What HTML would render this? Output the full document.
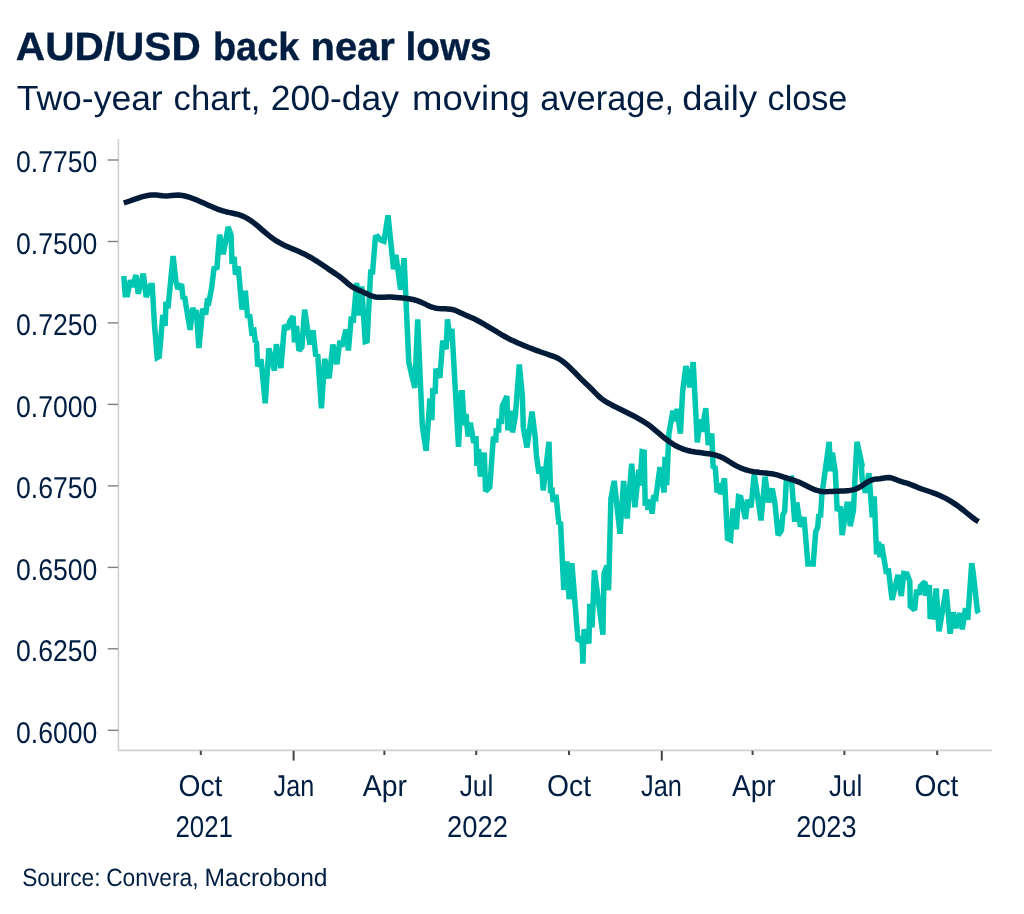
<!DOCTYPE html>
<html lang="en">
<head>
<meta charset="utf-8">
<title>AUD/USD back near lows</title>
<style>
  html, body { margin: 0; padding: 0; background: #ffffff; }
  body { width: 1024px; height: 914px; overflow: hidden; }
  svg { display: block; }
  svg text { font-family: "Liberation Sans", "DejaVu Sans", sans-serif; fill: #001e41; text-rendering: geometricPrecision; }
  .bold { font-weight: bold; stroke: #001e41; stroke-width: 0.4px; }
</style>
</head>
<body>
<svg width="1024" height="914" viewBox="0 0 1024 914" role="img" aria-label="AUD/USD back near lows">
  <rect x="0" y="0" width="1024" height="914" fill="#ffffff"/>
  <!-- headings -->
  <g id="title">
    <text class="bold" font-size="39.5" transform="translate(15.87 60.00) scale(1.0272 1)">AUD/USD </text>
    <text class="bold" font-size="39.5" transform="translate(212.93 60.00) scale(0.9588 1)">back </text>
    <text class="bold" font-size="39.5" transform="translate(310.51 60.00) scale(1.0099 1)">near </text>
    <text class="bold" font-size="39.5" transform="translate(405.58 60.00) scale(0.9794 1)">lows</text>
  </g>
  <g id="subtitle">
    <text font-size="35" transform="translate(16.75 110.00) scale(1.0139 1)">Two-year </text>
    <text font-size="35" transform="translate(173.62 110.00) scale(0.9901 1)">chart, </text>
    <text font-size="35" transform="translate(270.63 110.00) scale(1.0149 1)">200-day </text>
    <text font-size="35" transform="translate(412.02 110.00) scale(1.0444 1)">moving </text>
    <text font-size="35" transform="translate(540.23 110.00) scale(0.9827 1)">average, </text>
    <text font-size="35" transform="translate(682.36 110.00) scale(1.0382 1)">daily </text>
    <text font-size="35" transform="translate(767.53 110.00) scale(0.9773 1)">close</text>
  </g>
  <!-- axes -->
  <g stroke="#d0d0d0" stroke-width="1.6" fill="none">
    <line x1="118.4" y1="139.0" x2="118.4" y2="751.0"/>
    <line x1="117.6" y1="750.4" x2="992" y2="750.4"/>
  </g>
  <g stroke="#808080" stroke-width="1.4" fill="none">
    <line x1="107.7" y1="160.0" x2="118.1" y2="160.0"/>
    <line x1="107.7" y1="241.5" x2="118.1" y2="241.5"/>
    <line x1="107.7" y1="322.9" x2="118.1" y2="322.9"/>
    <line x1="107.7" y1="404.4" x2="118.1" y2="404.4"/>
    <line x1="107.7" y1="485.9" x2="118.1" y2="485.9"/>
    <line x1="107.7" y1="567.4" x2="118.1" y2="567.4"/>
    <line x1="107.7" y1="648.8" x2="118.1" y2="648.8"/>
    <line x1="107.7" y1="730.3" x2="118.1" y2="730.3"/>
  </g>
  <g stroke="#444444" stroke-width="2" fill="none">
    <line x1="200.8" y1="750.8" x2="200.8" y2="755.0"/>
    <line x1="293.6" y1="750.8" x2="293.6" y2="760.6"/>
    <line x1="384.4" y1="750.8" x2="384.4" y2="755.0"/>
    <line x1="476.2" y1="750.8" x2="476.2" y2="755.0"/>
    <line x1="569.0" y1="750.8" x2="569.0" y2="755.0"/>
    <line x1="661.8" y1="750.8" x2="661.8" y2="760.6"/>
    <line x1="752.6" y1="750.8" x2="752.6" y2="755.0"/>
    <line x1="844.4" y1="750.8" x2="844.4" y2="755.0"/>
    <line x1="937.2" y1="750.8" x2="937.2" y2="755.0"/>
  </g>
  <!-- y axis labels -->
  <g>
    <text font-size="30" transform="translate(15.97 172.40) scale(0.8871 1)">0.7750</text>
    <text font-size="30" transform="translate(15.97 253.87) scale(0.8871 1)">0.7500</text>
    <text font-size="30" transform="translate(15.97 335.34) scale(0.8871 1)">0.7250</text>
    <text font-size="30" transform="translate(15.97 416.81) scale(0.8871 1)">0.7000</text>
    <text font-size="30" transform="translate(15.97 498.28) scale(0.8871 1)">0.6750</text>
    <text font-size="30" transform="translate(15.97 579.75) scale(0.8871 1)">0.6500</text>
    <text font-size="30" transform="translate(15.97 661.22) scale(0.8871 1)">0.6250</text>
    <text font-size="30" transform="translate(15.97 742.69) scale(0.8871 1)">0.6000</text>
  </g>
  <!-- x axis labels -->
  <g>
    <text font-size="30" transform="translate(178.48 795.50) scale(0.9390 1)">Oct</text>
    <text font-size="30" transform="translate(273.61 795.50) scale(0.8395 1)">Jan</text>
    <text font-size="30" transform="translate(362.80 795.50) scale(0.9455 1)">Apr</text>
    <text font-size="30" transform="translate(459.69 795.50) scale(0.8774 1)">Jul</text>
    <text font-size="30" transform="translate(547.08 795.50) scale(0.9412 1)">Oct</text>
    <text font-size="30" transform="translate(641.00 795.50) scale(0.8460 1)">Jan</text>
    <text font-size="30" transform="translate(732.00 795.50) scale(0.9326 1)">Apr</text>
    <text font-size="30" transform="translate(828.89 795.50) scale(0.8690 1)">Jul</text>
    <text font-size="30" transform="translate(914.58 795.50) scale(0.9390 1)">Oct</text>
    <text font-size="30" transform="translate(175.49 837.00) scale(0.8609 1)">2021</text>
    <text font-size="30" transform="translate(447.12 837.00) scale(0.9108 1)">2022</text>
    <text font-size="30" transform="translate(796.23 837.00) scale(0.9030 1)">2023</text>
  </g>
  <!-- series: AUD/USD daily close -->
  <path d="M123.8 276.0 L125.2 294.8 L127.5 294.8 L130.3 280.2 L132.6 286.8 L136.0 275.0 L138.2 293.8 L143.3 273.7 L146.2 297.2 L150.4 285.4 L152.2 285.4 L154.4 323.6 L157.2 357.7 L159.3 356.6 L162.8 315.1 L165.1 325.8 L166.0 301.5 L168.0 308.3 L173.1 256.1 L176.0 281.7 L177.9 288.7 L181.6 284.4 L183.1 299.1 L184.5 296.3 L190.1 329.9 L192.8 307.8 L194.8 313.5 L196.3 310.1 L198.9 348.0 L202.7 308.8 L205.7 314.4 L207.2 301.5 L208.9 302.3 L211.6 288.1 L214.2 266.9 L216.8 269.3 L219.6 234.7 L223.2 254.2 L228.2 227.0 L231.0 234.7 L232.1 264.0 L234.2 256.9 L235.4 274.5 L238.2 266.4 L242.0 309.4 L245.3 290.8 L247.7 317.8 L249.6 314.5 L251.7 332.1 L254.0 330.8 L255.4 342.3 L256.4 341.4 L257.7 366.4 L261.1 359.6 L265.2 403.2 L268.9 348.4 L274.4 370.5 L276.3 344.3 L280.9 368.1 L284.5 325.3 L287.6 329.2 L289.7 321.5 L293.1 316.4 L294.5 342.3 L296.5 325.9 L298.9 350.6 L301.9 347.1 L304.6 309.7 L309.9 344.5 L313.0 330.4 L315.8 356.3 L317.7 354.5 L321.4 408.2 L324.7 358.9 L329.1 378.3 L332.9 344.6 L336.9 364.1 L339.9 340.8 L341.9 346.6 L346.0 329.6 L348.4 350.4 L351.1 319.4 L353.4 319.9 L356.7 283.0 L358.8 315.6 L361.7 286.5 L365.2 341.6 L367.1 341.0 L370.8 269.6 L372.4 274.4 L375.4 237.5 L377.6 236.6 L380.8 240.1 L384.0 241.3 L388.0 215.3 L393.6 269.3 L395.9 254.8 L400.6 289.6 L404.1 258.2 L408.8 362.5 L414.8 387.9 L417.7 319.4 L422.3 425.8 L426.1 450.8 L430.0 398.4 L431.9 420.1 L432.9 388.0 L435.2 393.6 L435.9 368.9 L439.9 377.7 L442.7 340.8 L446.2 349.1 L447.5 319.4 L450.1 340.6 L451.9 328.6 L458.5 446.8 L461.2 392.7 L462.3 392.7 L464.2 425.2 L465.9 413.9 L468.1 436.6 L470.3 422.8 L473.8 442.9 L476.0 436.3 L476.9 465.8 L478.6 449.0 L480.4 476.6 L484.3 452.6 L485.6 491.2 L489.8 487.1 L493.4 436.7 L495.7 442.3 L496.4 428.2 L498.6 432.5 L499.1 418.6 L501.4 423.9 L502.3 406.2 L506.9 396.1 L507.8 430.2 L511.7 410.7 L512.5 432.5 L515.4 415.6 L519.3 364.5 L522.4 396.2 L523.3 427.7 L527.0 447.4 L532.0 411.7 L535.1 436.5 L536.4 455.0 L538.9 473.4 L541.6 466.9 L543.2 490.3 L549.0 441.8 L550.6 493.1 L551.9 487.5 L553.1 501.7 L556.0 495.1 L558.9 524.2 L560.5 521.8 L563.8 589.9 L566.8 561.5 L569.1 599.2 L571.9 563.3 L578.0 640.9 L581.9 638.1 L582.9 663.7 L584.1 629.3 L588.9 643.4 L589.8 603.9 L592.1 627.5 L594.4 570.4 L602.9 634.7 L604.0 573.5 L606.9 565.7 L608.6 590.3 L610.9 498.9 L614.2 480.9 L620.0 533.7 L623.6 480.9 L627.1 518.5 L631.7 463.8 L634.9 507.3 L638.8 469.7 L639.8 485.5 L642.1 451.8 L644.2 452.3 L645.2 505.8 L647.1 499.2 L647.8 509.7 L650.3 499.6 L652.2 513.7 L653.6 495.8 L655.9 497.5 L656.8 490.1 L660.0 467.2 L664.1 492.5 L665.0 456.8 L666.7 485.2 L668.9 433.6 L672.9 410.8 L675.2 421.2 L677.0 408.9 L680.4 433.6 L682.7 390.8 L685.9 366.0 L689.7 387.2 L693.2 362.2 L697.3 442.4 L700.2 419.4 L702.0 431.7 L705.8 408.3 L708.2 445.0 L711.8 433.7 L713.1 466.6 L715.3 468.1 L717.1 492.5 L719.5 483.3 L720.4 494.4 L724.5 478.4 L727.5 538.5 L730.5 539.9 L733.0 508.5 L736.3 529.3 L738.5 496.6 L740.7 497.3 L745.5 518.9 L747.6 499.9 L751.1 507.3 L754.2 474.2 L759.0 506.2 L761.0 520.4 L765.1 476.7 L768.6 502.4 L772.2 488.5 L775.0 503.8 L778.1 535.2 L781.4 530.3 L782.9 514.8 L784.7 511.2 L786.3 480.8 L788.9 478.6 L791.4 478.2 L794.7 521.7 L796.8 502.5 L800.4 526.7 L804.0 517.3 L807.9 563.9 L813.2 563.9 L815.7 531.7 L817.7 527.3 L818.8 514.1 L820.5 517.4 L821.9 494.5 L829.2 441.8 L830.5 471.3 L832.3 452.6 L835.3 471.6 L837.2 510.9 L840.4 506.6 L842.1 535.0 L847.0 504.3 L849.0 504.3 L850.2 526.1 L853.5 510.2 L854.9 479.5 L857.0 441.8 L862.4 466.6 L861.4 466.2 L862.2 479.8 L865.4 492.5 L868.9 473.3 L872.3 517.2 L874.2 496.4 L876.6 554.4 L878.5 541.7 L880.1 557.3 L881.5 544.2 L884.1 559.2 L886.0 571.3 L888.6 571.0 L892.1 599.8 L898.0 574.8 L901.3 596.0 L903.8 573.4 L907.0 574.0 L909.8 581.2 L910.3 606.2 L914.6 610.0 L916.6 589.8 L919.5 594.6 L920.4 586.2 L925.0 581.8 L925.5 595.6 L929.4 585.2 L930.1 616.6 L933.4 617.0 L936.2 588.5 L939.0 631.2 L946.1 589.4 L950.1 633.7 L953.3 612.3 L955.9 628.0 L960.0 613.1 L962.3 629.3 L965.5 608.1 L967.8 619.8 L971.7 563.1 L973.2 572.5 L977.4 611.0 L978.5 613.1" fill="none" stroke="#00c7b1" stroke-width="5.5" stroke-linejoin="miter" stroke-miterlimit="2" stroke-linecap="butt"/>
  <!-- series: 200-day moving average -->
  <path d="M123.8 203.0 L126.8 202.0 L129.8 201.0 L132.8 199.9 L135.8 198.9 L138.8 197.9 L141.8 196.9 L144.8 196.1 L147.8 195.5 L150.8 195.1 L153.8 194.9 L156.8 195.1 L159.8 195.4 L162.8 195.7 L165.8 195.9 L168.8 195.8 L171.8 195.5 L174.8 195.2 L177.8 195.1 L180.8 195.3 L183.8 195.8 L186.8 196.5 L189.8 197.4 L192.8 198.5 L195.8 199.6 L198.8 200.9 L201.8 202.2 L204.8 203.6 L207.8 204.9 L210.8 206.3 L213.8 207.6 L216.8 208.8 L219.8 209.9 L222.8 210.9 L225.8 211.7 L228.8 212.4 L231.8 213.0 L234.8 213.7 L237.8 214.4 L240.8 215.4 L243.8 216.6 L246.8 218.1 L249.8 220.0 L252.8 222.1 L255.8 224.4 L258.8 226.9 L261.8 229.6 L264.8 232.2 L267.8 234.7 L270.8 237.1 L273.8 239.2 L276.8 241.1 L279.8 242.9 L282.8 244.5 L285.8 245.9 L288.8 247.3 L291.8 248.6 L294.8 249.8 L297.8 251.1 L300.8 252.4 L303.8 253.8 L306.8 255.3 L309.8 257.0 L312.8 258.7 L315.8 260.6 L318.8 262.5 L321.8 264.5 L324.8 266.5 L327.8 268.6 L330.8 270.6 L333.8 272.6 L336.8 274.6 L339.8 276.8 L342.8 279.1 L345.8 281.7 L348.8 284.3 L351.8 286.6 L354.8 288.3 L357.8 289.7 L360.8 291.0 L363.8 292.4 L366.8 293.8 L369.8 295.2 L372.8 296.4 L375.8 297.0 L378.8 297.3 L381.8 297.3 L384.8 297.2 L387.8 297.1 L390.8 297.1 L393.8 297.2 L396.8 297.4 L399.8 297.7 L402.8 298.0 L405.8 298.3 L408.8 298.8 L411.8 299.3 L414.8 300.0 L417.8 300.9 L420.8 302.1 L423.8 303.4 L426.8 304.9 L429.8 306.3 L432.8 307.4 L435.8 308.2 L438.8 308.6 L441.8 308.8 L444.8 308.8 L447.8 308.9 L450.8 309.2 L453.8 309.9 L456.8 311.0 L459.8 312.4 L462.8 313.8 L465.8 315.2 L468.8 316.4 L471.8 317.7 L474.8 319.1 L477.8 320.7 L480.8 322.3 L483.8 324.0 L486.8 325.8 L489.8 327.6 L492.8 329.4 L495.8 331.2 L498.8 333.0 L501.8 334.8 L504.8 336.5 L507.8 338.2 L510.8 339.7 L513.8 341.1 L516.8 342.5 L519.8 343.8 L522.8 345.1 L525.8 346.3 L528.8 347.5 L531.8 348.6 L534.8 349.8 L537.8 350.9 L540.8 352.0 L543.8 353.0 L546.8 354.0 L549.8 355.1 L552.8 356.1 L555.8 357.3 L558.8 358.8 L561.8 360.8 L564.8 363.0 L567.8 365.6 L570.8 368.5 L573.8 371.4 L576.8 374.5 L579.8 377.6 L582.8 380.6 L585.8 383.4 L588.8 386.3 L591.8 389.2 L594.8 392.4 L597.8 395.4 L600.8 398.1 L603.8 400.4 L606.8 402.3 L609.8 403.9 L612.8 405.5 L615.8 407.1 L618.8 408.5 L621.8 410.0 L624.8 411.5 L627.8 413.0 L630.8 414.5 L633.8 416.0 L636.8 417.6 L639.8 419.3 L642.8 421.1 L645.8 423.0 L648.8 425.1 L651.8 427.3 L654.8 429.8 L657.8 432.3 L660.8 434.9 L663.8 437.5 L666.8 439.8 L669.8 442.0 L672.8 444.0 L675.8 445.8 L678.8 447.3 L681.8 448.6 L684.8 449.7 L687.8 450.5 L690.8 451.2 L693.8 451.8 L696.8 452.2 L699.8 452.6 L702.8 453.0 L705.8 453.4 L708.8 453.8 L711.8 454.3 L714.8 454.9 L717.8 455.8 L720.8 456.9 L723.8 458.3 L726.8 460.1 L729.8 462.0 L732.8 463.9 L735.8 465.6 L738.8 467.1 L741.8 468.4 L744.8 469.5 L747.8 470.4 L750.8 471.1 L753.8 471.7 L756.8 472.1 L759.8 472.5 L762.8 472.8 L765.8 473.0 L768.8 473.4 L771.8 473.8 L774.8 474.4 L777.8 475.2 L780.8 476.1 L783.8 477.1 L786.8 478.0 L789.8 479.0 L792.8 479.9 L795.8 481.0 L798.8 482.1 L801.8 483.5 L804.8 485.0 L807.8 486.5 L810.8 488.0 L813.8 489.3 L816.8 490.4 L819.8 491.2 L822.8 491.6 L825.8 491.7 L828.8 491.6 L831.8 491.4 L834.8 491.3 L837.8 491.2 L840.8 491.1 L843.8 491.0 L846.8 490.7 L849.8 490.4 L852.8 489.9 L855.8 489.1 L858.8 487.7 L861.8 485.9 L864.8 483.8 L867.8 481.9 L870.8 480.4 L873.8 479.4 L876.8 478.9 L879.8 478.7 L882.8 478.2 L885.8 477.7 L888.8 477.5 L891.8 478.0 L894.8 479.1 L897.8 480.3 L900.8 481.4 L903.8 482.3 L906.8 483.2 L909.8 484.2 L912.8 485.4 L915.8 486.6 L918.8 487.9 L921.8 489.0 L924.8 490.0 L927.8 491.0 L930.8 492.0 L933.8 493.1 L936.8 494.2 L939.8 495.5 L942.8 496.9 L945.8 498.4 L948.8 500.1 L951.8 501.9 L954.8 503.9 L957.8 505.9 L960.8 508.2 L963.8 510.5 L966.8 513.0 L969.8 515.4 L972.8 517.8 L975.8 520.0 L978.5 521.7" fill="none" stroke="#001c38" stroke-width="5.5" stroke-linejoin="round" stroke-linecap="butt"/>
  <!-- footer -->
  <g id="source">
    <text font-size="25" transform="translate(22.14 885.50) scale(0.9090 1)">Source: </text>
    <text font-size="25" transform="translate(106.13 885.50) scale(0.9116 1)">Convera, </text>
    <text font-size="25" transform="translate(204.48 885.50) scale(0.9834 1)">Macrobond</text>
  </g>
</svg>
</body>
</html>
